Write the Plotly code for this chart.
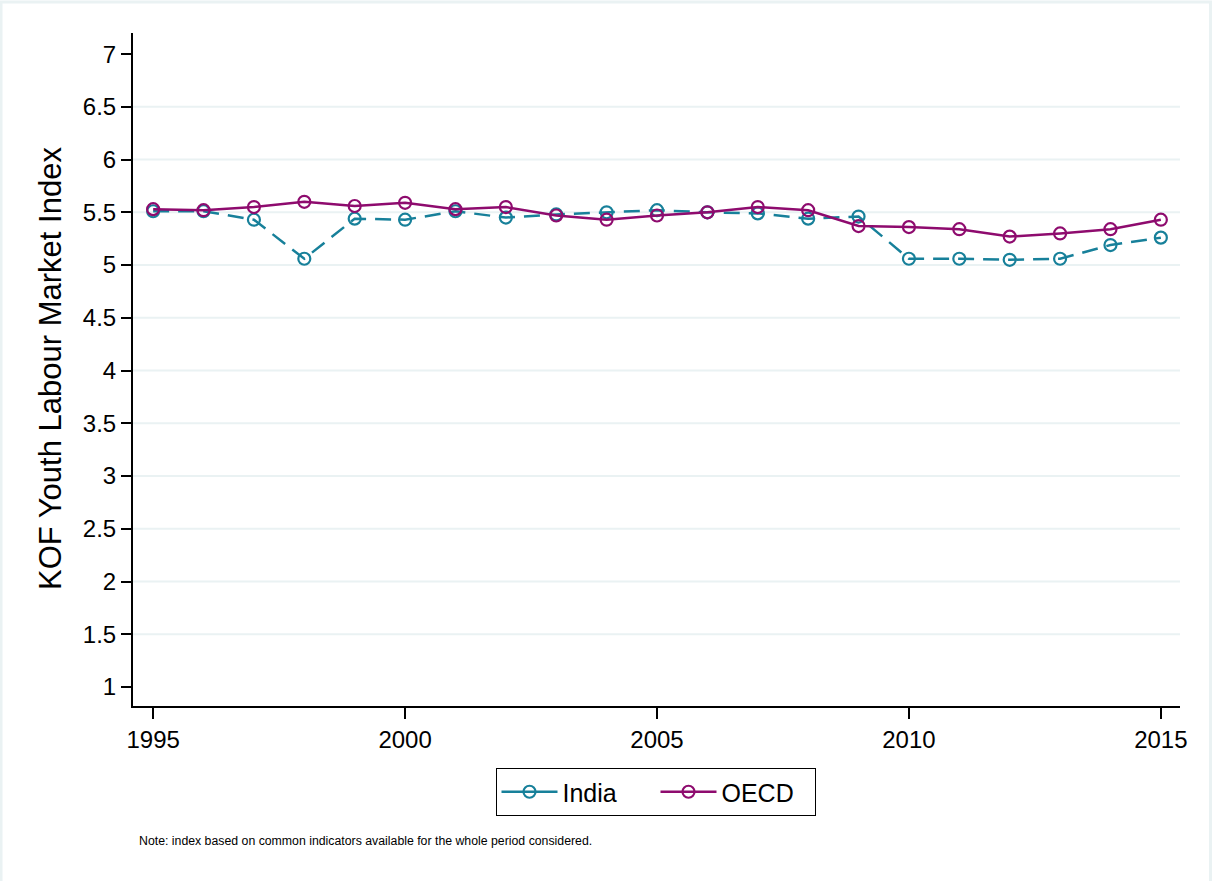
import plotly.graph_objects as go

years = list(range(1995, 2016))
india = [5.51, 5.51, 5.43, 5.06, 5.44, 5.43, 5.51, 5.45, 5.48, 5.50, 5.52,
         5.50, 5.49, 5.44, 5.46, 5.06, 5.06, 5.05, 5.06, 5.19, 5.26]
oecd = [5.53, 5.52, 5.55, 5.60, 5.56, 5.59, 5.53, 5.55, 5.47, 5.43, 5.47,
        5.50, 5.55, 5.52, 5.37, 5.36, 5.34, 5.27, 5.30, 5.34, 5.43]

y_ticks = [1, 1.5, 2, 2.5, 3, 3.5, 4, 4.5, 5, 5.5, 6, 6.5, 7]
y_tick_labels = ["1", "1.5", "2", "2.5", "3", "3.5", "4", "4.5", "5", "5.5", "6", "6.5", "7"]
x_ticks = [1995, 2000, 2005, 2010, 2015]
x_tick_labels = ["1995", "2000", "2005", "2010", "2015"]
grid_values = y_ticks[1:-1]

ytitle = "KOF Youth Labour Market Index"
note = "Note: index based on common indicators available for the whole period considered."

W, H = 1212, 881
L, R, T, B = 133, 32, 33, 175
PW, PH = W - L - R, H - T - B


def px_x(p):
    return (p - L) / PW


def px_y(p):
    return (H - B - p) / PH


FONT = "Liberation Sans, Arial, sans-serif"
TEAL = "#17809a"
PURPLE = "#8e0b6e"

fig = go.Figure()
fig.add_trace(go.Scatter(
    x=years, y=india, name="India", mode="lines+markers", showlegend=False,
    line=dict(color=TEAL, width=2.5, dash="16px,9px"),
    marker=dict(symbol="circle-open", size=12, color=TEAL, line=dict(width=2.2, color=TEAL)),
))
# legend proxy (Stata draws the legend key with a solid line)
fig.add_trace(go.Scatter(
    x=[None], y=[None], name="India", mode="lines+markers", showlegend=True,
    line=dict(color=TEAL, width=2.5),
    marker=dict(symbol="circle-open", size=12, color=TEAL, line=dict(width=2.2, color=TEAL)),
))
fig.add_trace(go.Scatter(
    x=years, y=oecd, name="OECD", mode="lines+markers",
    line=dict(color=PURPLE, width=2.5),
    marker=dict(symbol="circle-open", size=12, color=PURPLE, line=dict(width=2.2, color=PURPLE)),
))

shapes = []
for g in grid_values:
    shapes.append(dict(type="line", xref="paper", yref="y", x0=0, x1=1, y0=g, y1=g,
                       line=dict(color="#eaf2f3", width=2), layer="below"))
# outer light frame
shapes.append(dict(type="rect", xref="paper", yref="paper",
                   x0=px_x(1), x1=px_x(1210.5), y0=px_y(2), y1=px_y(900),
                   line=dict(color="#eaf2f3", width=3), fillcolor="rgba(0,0,0,0)", layer="below"))

fig.update_layout(
    width=W, height=H,
    margin=dict(l=L, r=R, t=T, b=B, autoexpand=False),
    paper_bgcolor="white", plot_bgcolor="white",
    font=dict(family=FONT, color="black", size=24),
    shapes=shapes,
    showlegend=True,
    legend=dict(
        orientation="h", x=px_x(655.5), xanchor="center", y=px_y(768), yanchor="top",
        bordercolor="black", borderwidth=1, bgcolor="white",
        font=dict(family=FONT, size=25, color="black"),
        itemwidth=56, entrywidth=88, tracegroupgap=0,
    ),
    annotations=[
        dict(text=ytitle, xref="paper", yref="paper", x=px_x(50), y=px_y(369),
             xanchor="center", yanchor="middle", textangle=-90, showarrow=False,
             font=dict(family=FONT, size=31, color="black")),
        dict(text=note, xref="paper", yref="paper", x=px_x(137), y=px_y(841),
             xanchor="left", yanchor="middle", showarrow=False,
             font=dict(family=FONT, size=12.3, color="black")),
    ],
)

fig.update_xaxes(
    range=[1994.6, 2015.38], tickmode="array", tickvals=x_ticks, ticktext=x_tick_labels,
    showgrid=False, zeroline=False, showline=True, linecolor="black", linewidth=2,
    ticks="outside", ticklen=11, tickwidth=1.5, tickcolor="black",
    tickfont=dict(family=FONT, size=24, color="black"),
)
fig.update_yaxes(
    range=[0.82, 7.2], tickmode="array", tickvals=y_ticks, ticktext=y_tick_labels,
    showgrid=False, zeroline=False, showline=True, linecolor="black", linewidth=2,
    ticks="outside", ticklen=10, tickwidth=1.5, tickcolor="black",
    tickfont=dict(family=FONT, size=24, color="black"),
)

fig.write_html("out.html", config={"displayModeBar": False},
               post_script="document.body.style.margin='0';document.body.style.overflow='hidden';")
